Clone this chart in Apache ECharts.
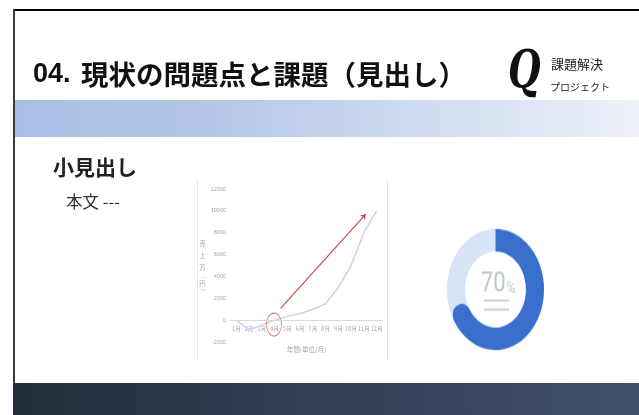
<!DOCTYPE html>
<html>
<head>
<meta charset="utf-8">
<script src="https://cdn.jsdelivr.net/npm/echarts@6/dist/echarts.min.js"></script>
<style>
html,body{margin:0;padding:0;background:#fff;}
#main{position:absolute;left:0;top:0;width:639px;height:415px;}
#donut{position:absolute;left:447px;top:241px;width:97px;height:97px;transform:scaleY(1.25);transform-origin:50% 50%;}
</style>
</head>
<body>
<div id="main"></div>
<div id="donut"></div>
<script>
// ---- data ----
const months = ['1月','2月','3月','4月','5月','6月','7月','8月','9月','10月','11月','12月'];
const sales = [0, -900, -450, 0, 350, 600, 1000, 1500, 3000, 5000, 8000, 10000];
const yTicks = [-2000, 0, 2000, 4000, 6000, 8000, 10000, 12000];
const arrowFrom = [3.47, 1070];
const arrowTo = [10.15, 9700];
const circleMark = [2.95, -400];
const donutValues = [70, 30];
const donutLabel = ['70', '%'];

const JP = '"Noto Sans CJK JP", "Noto Sans", sans-serif';
const axisGray = '#a6a6a6';

const main = echarts.init(document.getElementById('main'), null, {renderer: 'canvas'});
main.setOption({
  animation: false,
  backgroundColor: '#fff',
  graphic: [
    {type:'rect', shape:{x:13, y:9, width:626, height:2}, style:{fill:'#000'}, z:10},
    {type:'rect', shape:{x:13, y:9, width:2, height:375}, style:{fill:'#3a3a3a'}, z:10},
    {type:'rect', shape:{x:15, y:100, width:624, height:37},
      style:{fill:{type:'linear', x:0, y:0, x2:1, y2:0, colorStops:[
        {offset:0, color:'#a9bee3'}, {offset:0.3, color:'#b3c6e7'}, {offset:0.6, color:'#cbd8ef'}, {offset:1, color:'#eef2f9'}]}}},
    {type:'rect', shape:{x:13, y:383, width:626, height:32},
      style:{fill:{type:'linear', x:0, y:0, x2:1, y2:0, colorStops:[
        {offset:0, color:'#232c3b'}, {offset:0.45, color:'#2f3f56'}, {offset:1, color:'#3f5069'}]}}, z:10},
    // title
    {type:'text', x:33, y:75, style:{text:'04.', font:'bold 27px "Liberation Sans", Arial, sans-serif', fill:'#111', textVerticalAlign:'middle'}},
    {type:'text', x:81, y:75, style:{text:'現状の問題点と課題（見出し）', font:'bold 27.5px ' + JP, fill:'#111', textVerticalAlign:'middle'}},
    // logo
    {type:'text', x:508, y:47, scaleX:0.72, style:{text:'Q', font:'bold italic 52px "DejaVu Serif", serif', fill:'#111', textVerticalAlign:'top'}},
    {type:'text', x:551, y:64, style:{text:'課題解決', font:'13px ' + JP, fill:'#222', textVerticalAlign:'middle'}},
    {type:'text', x:550, y:87, style:{text:'プロジェクト', font:'10px ' + JP, fill:'#222', textVerticalAlign:'middle'}},
    // sub heading & body
    {type:'text', x:53, y:167, style:{text:'小見出し', font:'bold 21px ' + JP, fill:'#222', textVerticalAlign:'middle'}},
    {type:'text', x:66, y:202, style:{text:'本文 ---', font:'16.5px ' + JP, fill:'#333', textVerticalAlign:'middle'}},
    // chart image edges
    {type:'line', shape:{x1:197.5, y1:180, x2:197.5, y2:360}, style:{stroke:'#e6e6e6', lineWidth:1}},
    {type:'line', shape:{x1:387.5, y1:180, x2:387.5, y2:360}, style:{stroke:'#e6e6e6', lineWidth:1}}
  ],
  grid: {left:230, right:256, top:189, bottom:73, containLabel:false},
  xAxis: [
    {type:'category', data: months, boundaryGap:true,
      axisLine:{show:false, onZero:false},
      axisTick:{show:false},
      axisLabel:{interval:0, fontSize:5.5, color:axisGray, margin:-16, fontFamily:JP},
      name:'年間(単位/月)', nameLocation:'middle', nameGap:4,
      nameTextStyle:{fontSize:6.5, color:axisGray, fontFamily:JP}},
    {type:'value', min:-0.5, max:11.5, show:false}
  ],
  yAxis: {type:'value', min:yTicks[0], max:yTicks[yTicks.length-1], interval:2000,
    axisLine:{show:false}, axisTick:{show:false}, splitLine:{show:false},
    axisLabel:{fontSize:5.5, color:axisGray, margin:4, formatter:function(v){return String(v);}},
    name:'{a|売}\n{a|上}\n{a|万}\n{p|︵}\n{a|円}\n{p|︶}', nameLocation:'middle', nameGap:16, nameRotate:0,
    nameTextStyle:{rich:{a:{fontSize:6.5, lineHeight:12, color:axisGray, fontFamily:JP}, p:{fontSize:5, lineHeight:4, color:axisGray, fontFamily:JP}}}
  },
  series: [
    {type:'line', data: sales, showSymbol:false, symbol:'none',
      lineStyle:{color:'#c9d5ef', width:1.6}, z:3,
      markLine:{silent:true, symbol:'none', label:{show:false}, lineStyle:{color:'#d9d9d9', type:'solid', width:1},
        data:[{yAxis:0}]}},
    {type:'lines', coordinateSystem:'cartesian2d', xAxisIndex:1, yAxisIndex:0,
      data:[{coords:[arrowFrom, arrowTo]}],
      symbol:['none','arrow'], symbolSize:5,
      lineStyle:{color:'#c0504d', width:1.2, opacity:1}, z:4},
    {type:'scatter', xAxisIndex:1, data:[circleMark], symbol:'circle', symbolSize:[15,23],
      itemStyle:{color:'rgba(0,0,0,0)', borderColor:'#d0605c', borderWidth:1}, z:4}
  ]
});

const donut = echarts.init(document.getElementById('donut'), null, {renderer: 'canvas'});
donut.setOption({
  animation:false,
  graphic:[
    {type:'text', x:58.5, y:44.5, style:{text:donutLabel[0], font:'22px Roboto, "Open Sans", sans-serif', fill:'#bec9c6', textAlign:'right', textVerticalAlign:'middle'}},
    {type:'text', x:59.5, y:48, style:{text:donutLabel[1], font:'12px Roboto, "Open Sans", sans-serif', fill:'#bec9c6', textAlign:'left', textVerticalAlign:'middle'}},
    {type:'rect', shape:{x:37, y:56.5, width:25, height:1.6}, style:{fill:'#c6cfcc'}},
    {type:'rect', shape:{x:37, y:63.7, width:25, height:1.6}, style:{fill:'#c6cfcc'}}
  ],
  series:[
    {type:'pie', radius:[30.5, 48.5], center:['50%','50%'], silent:true, label:{show:false}, labelLine:{show:false},
      data:[{value:donutValues[0] + donutValues[1], itemStyle:{color:'#d6e4f5'}}], z:1},
    {type:'pie', radius:[30.5, 48.5], center:['50%','50%'], startAngle:90, clockwise:true, silent:true,
      label:{show:false}, labelLine:{show:false},
      data:[
        {value:donutValues[0], itemStyle:{color:'#3a6fce', borderRadius:[0, 9, 0, 9]}},
        {value:donutValues[1], itemStyle:{color:'rgba(0,0,0,0)'}}
      ], z:2}
  ]
});
</script>
</body>
</html>
